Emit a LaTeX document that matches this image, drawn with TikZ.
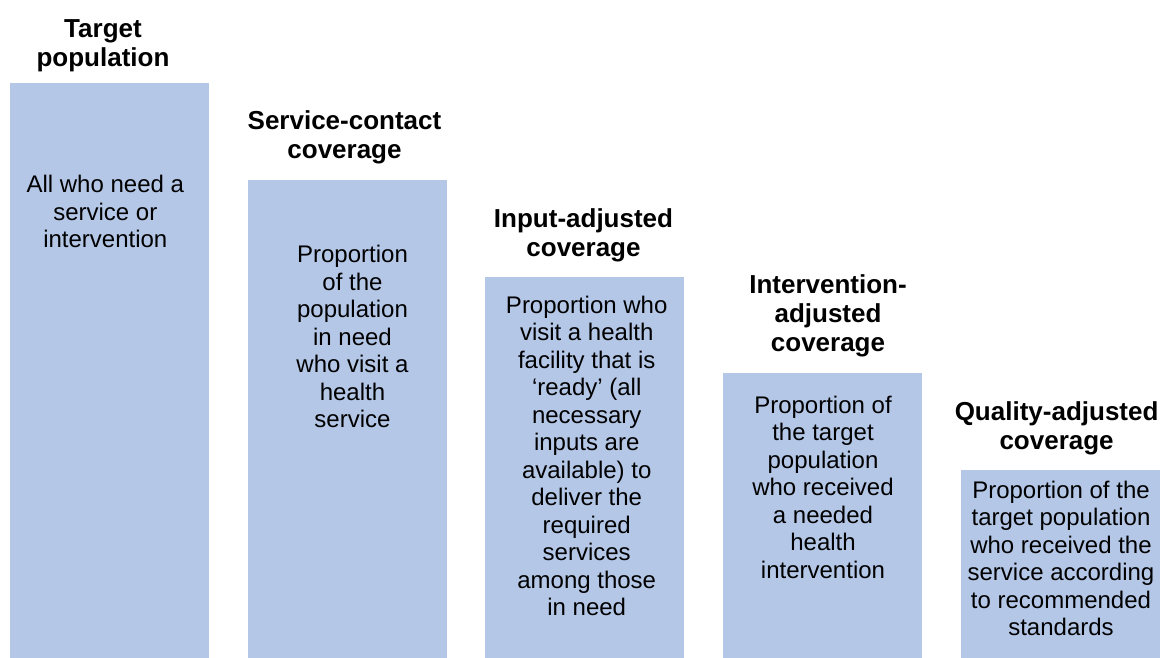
\documentclass[tikz,border=0pt]{standalone}
\usepackage{fontspec}
\setmainfont{Liberation Sans}
\definecolor{barfill}{HTML}{B4C7E7}
\begin{document}
\begin{tikzpicture}[x=1pt,y=-1pt,
  bar/.style={fill=barfill, draw=none, inner sep=0pt, anchor=north west, minimum width=199pt},
  title/.style={anchor=base, align=center, inner sep=0pt, font=\fontsize{26}{29}\selectfont\bfseries},
  body/.style={anchor=base, align=center, inner sep=0pt, font=\fontsize{24}{27.5}\selectfont}]
\useasboundingbox (0,0) rectangle (1162,658);

% coverage bars, stepping down from left to right
\node[bar, minimum height=575pt] (b1) at (10,83) {};
\node[bar, minimum height=478pt] (b2) at (248,180) {};
\node[bar, minimum height=381pt] (b3) at (485,277) {};
\node[bar, minimum height=285pt] (b4) at (723,373) {};
\node[bar, minimum height=188pt] (b5) at (961,470) {};

% headings above the bars (positioned by the baseline of their last line)
\node[title] (t1) at (103,67) {Target\\population};
\node[title] (t2) at (344.5,158.3) {Service-contact\\coverage};
\node[title] (t3) at (583.5,256.7) {Input-adjusted\\coverage};
\node[title] (t4) at (828,351.7) {Intervention-\\adjusted\\coverage};
\node[title] (t5) at (1056.6,449.3) {Quality-adjusted\\coverage};

% descriptions inside the bars (positioned by the baseline of their last line)
\node[body] (d1) at (105.3,247.5) {All who need a\\service or\\intervention};
\node[body] (d2) at (352.5,427.5) {Proportion\\of the\\population\\in need\\who visit a\\health\\service};
\node[body] (d3) at (586.7,615.8) {Proportion who\\visit a health\\facility that is\\‘ready’ (all\\necessary\\inputs are\\available) to\\deliver the\\required\\services\\among those\\in need};
\node[body] (d4) at (823,578.3) {Proportion of\\the target\\population\\who received\\a needed\\health\\intervention};
\node[body] (d5) at (1061,635.8) {Proportion of the\\target population\\who received the\\service according\\to recommended\\standards};
\end{tikzpicture}
\end{document}
